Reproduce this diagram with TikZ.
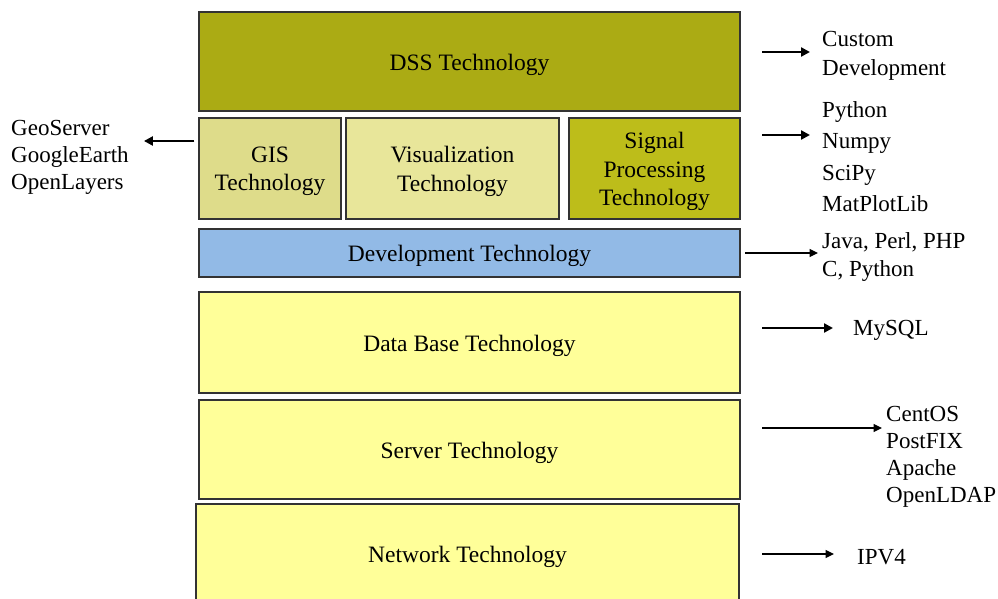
\documentclass[tikz,border=0pt]{standalone}
\usepackage{fontspec}
\setmainfont{Liberation Serif}
\usetikzlibrary{arrows.meta}
\definecolor{olivedark}{RGB}{171,171,20}
\definecolor{olivemid}{RGB}{189,189,26}
\definecolor{olivelight}{RGB}{222,220,138}
\definecolor{olivepale}{RGB}{232,230,154}
\definecolor{devblue}{RGB}{146,186,230}
\definecolor{paleyellow}{RGB}{255,255,153}
\begin{document}
\begin{tikzpicture}[x=1pt,y=-1pt,
  layer/.style={draw=black!80, line width=1.3pt, inner sep=0pt},
  caption/.style={inner sep=0pt, align=center, yshift=-3pt,
                font=\fontsize{23.5}{28.5}\selectfont},
  lbl/.style={anchor=west, align=left, inner sep=0pt, yshift=-3pt},
  heavy/.style={-{Triangle[length=9pt,width=9pt]}, line width=2.2pt},
  light/.style={-{Triangle[length=8.5pt,width=8pt]}, line width=1.2pt}]
\useasboundingbox (0,0) rectangle (998,599);
\clip (0,0) rectangle (998,599);

% stacked technology layers
\node[layer, fill=olivedark, minimum width=541, minimum height=99] (dss) at (469.5,61.5) {};
\node[layer, fill=olivelight, minimum width=142, minimum height=101] (gis) at (270,168.5) {};
\node[layer, fill=olivepale, minimum width=213, minimum height=101] (vis) at (452.5,168.5) {};
\node[layer, fill=olivemid, minimum width=171, minimum height=101] (sig) at (654.5,168.5) {};
\node[layer, fill=devblue, minimum width=541, minimum height=48] (dev) at (469.5,253) {};
\node[layer, fill=paleyellow, minimum width=541, minimum height=101] (db) at (469.5,342.5) {};
\node[layer, fill=paleyellow, minimum width=541, minimum height=99] (srv) at (469.5,449.5) {};
\node[layer, fill=paleyellow, minimum width=543, minimum height=100] (net) at (467.5,554) {};

% layer names
\node[caption] (dss-t) at (dss.center) {DSS Technology};
\node[caption] (gis-t) at (gis.center) {GIS\\Technology};
\node[caption] (vis-t) at (vis.center) {Visualization\\Technology};
\node[caption] (sig-t) at (sig.center) {Signal\\Processing\\Technology};
\node[caption] (dev-t) at (dev.center) {Development Technology};
\node[caption] (db-t) at (db.center) {Data Base Technology};
\node[caption] (srv-t) at (srv.center) {Server Technology};
\node[caption] (net-t) at (net.center) {Network Technology};

% tools used on each layer
\node[lbl, font=\fontsize{23}{29}\selectfont] (custom) at (822,52.5) {Custom\\Development};
\node[lbl, font=\fontsize{23}{31.5}\selectfont, yshift=3pt] (py) at (822,156.5) {Python\\Numpy\\SciPy\\MatPlotLib};
\node[lbl, font=\fontsize{23}{28}\selectfont] (lang) at (822,254) {Java, Perl, PHP\\C, Python};
\node[lbl, font=\fontsize{23}{28}\selectfont] (mysql) at (853,327) {MySQL};
\node[lbl, font=\fontsize{23}{27}\selectfont] (os) at (886,453.5) {CentOS\\PostFIX\\Apache\\OpenLDAP};
\node[lbl, font=\fontsize{23}{28}\selectfont] (ipv) at (857,554) {IPV4};
\node[lbl, font=\fontsize{23}{27}\selectfont] (geo) at (11,154) {GeoServer\\GoogleEarth\\OpenLayers};

% arrow tails
\coordinate (t1) at (762,52);
\coordinate (t2) at (762,135);
\coordinate (t3) at (745,253);
\coordinate (t4) at (762,328);
\coordinate (t5) at (762,428);
\coordinate (t6) at (762,554);
\coordinate (t7) at (gis.west |- 0,141);

\draw[heavy, shorten >=12pt] (t1) -- (t1 -| custom.west);
\draw[heavy, shorten >=12pt] (t2) -- (t2 -| py.west);
\draw[light, shorten >=4pt] (t3) -- (t3 -| lang.west);
\draw[heavy, shorten >=20pt] (t4) -- (t4 -| mysql.west);
\draw[light, shorten >=4pt] (t5) -- (t5 -| os.west);
\draw[light, shorten >=23pt] (t6) -- (t6 -| ipv.west);
\draw[heavy, shorten <=4pt, shorten >=15pt] (t7) -- (t7 -| geo.east);
\end{tikzpicture}
\end{document}
